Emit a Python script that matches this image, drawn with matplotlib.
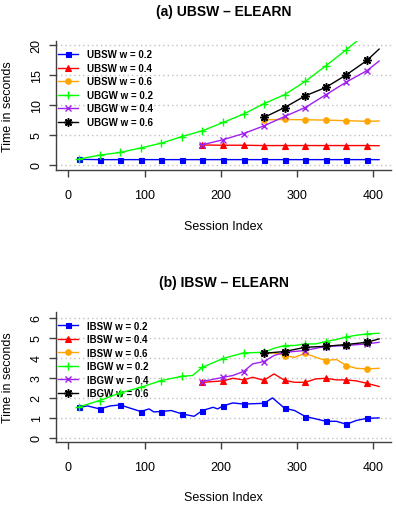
import matplotlib
matplotlib.use("Agg")
import matplotlib.pyplot as plt

plt.rcParams['font.family'] = ['Liberation Sans', 'DejaVu Sans']

# ---------------- data ----------------
MARKS = [14, 41, 68, 95, 122, 149, 176, 203, 230, 257, 284, 311, 338, 365, 392]

# (a) UBSW - ELEARN
a_ubsw02_x = [12, 14, 41, 68, 95, 122, 149, 176, 203, 230, 257, 284, 311, 338, 365, 392, 408]
a_ubsw02_y = [0.9, 0.9, 0.85, 0.85, 0.85, 0.85, 0.85, 0.85, 0.85, 0.85, 0.85, 0.85, 0.85, 0.85, 0.85, 0.85, 0.85]
a_ubsw04_x = [173, 176, 203, 230, 257, 284, 311, 338, 365, 392, 408]
a_ubsw04_y = [3.35, 3.3, 3.25, 3.25, 3.2, 3.2, 3.2, 3.2, 3.2, 3.2, 3.17]
a_ubsw06_x = [257, 284, 311, 338, 365, 392, 408]
a_ubsw06_y = [7.5, 7.55, 7.5, 7.45, 7.35, 7.25, 7.3]
a_ubgw02_x = [14, 41, 68, 95, 122, 149, 176, 203, 230, 257, 284, 311, 338, 365, 392, 408]
a_ubgw02_y = [0.95, 1.6, 2.05, 2.8, 3.6, 4.7, 5.67, 7.05, 8.45, 10.2, 11.7, 13.9, 16.5, 19.2, 22.0, 23.8]
a_ubgw04_x = [173, 176, 203, 230, 257, 284, 311, 338, 365, 392, 408]
a_ubgw04_y = [3.33, 3.33, 4.17, 5.2, 6.5, 8.05, 9.55, 11.67, 13.8, 15.7, 17.3]
a_ubgw06_x = [257, 284, 311, 338, 365, 392, 408]
a_ubgw06_y = [7.9, 9.55, 11.5, 12.9, 15.0, 17.4, 19.3]

# (b) IBSW - ELEARN
b_ibsw02_x = [12, 14, 25, 41, 55, 68, 80, 95, 106, 112, 122, 135, 149, 165, 176, 190, 196, 203,
              216, 230, 257, 268, 284, 297, 311, 325, 338, 352, 365, 378, 392, 408]
b_ibsw02_y = [1.5, 1.53, 1.6, 1.45, 1.6, 1.65, 1.5, 1.32, 1.45, 1.3, 1.32, 1.37, 1.2, 1.08, 1.37,
              1.53, 1.45, 1.6, 1.75, 1.69, 1.73, 2.0, 1.48, 1.37, 1.07, 0.95, 0.83, 0.83, 0.68, 0.87,
              0.98, 1.0]
b_ibsw04_x = [174, 176, 203, 216, 230, 242, 257, 270, 284, 297, 311, 325, 338, 352, 365, 378, 392, 408]
b_ibsw04_y = [2.78, 2.78, 2.85, 2.98, 2.9, 3.03, 2.88, 3.2, 2.88, 2.78, 2.78, 2.95, 2.98, 2.9, 2.9,
              2.85, 2.73, 2.57]
b_ibsw06_x = [257, 270, 284, 297, 311, 325, 338, 352, 365, 378, 392, 408]
b_ibsw06_y = [4.23, 4.25, 4.12, 4.03, 4.23, 4.03, 3.87, 3.92, 3.62, 3.48, 3.45, 3.48]
b_ibgw02_x = [14, 41, 68, 95, 122, 149, 163, 176, 203, 230, 257, 270, 284, 297, 311, 325, 338, 352,
              365, 378, 392, 408]
b_ibgw02_y = [1.55, 1.87, 2.25, 2.53, 2.87, 3.08, 3.12, 3.53, 3.97, 4.25, 4.28, 4.48, 4.62, 4.62,
              4.7, 4.7, 4.82, 4.92, 5.05, 5.13, 5.2, 5.23]
b_ibgw04_x = [174, 176, 203, 216, 230, 242, 257, 270, 284, 311, 325, 338, 365, 392, 408]
b_ibgw04_y = [2.82, 2.82, 3.03, 3.12, 3.32, 3.7, 3.82, 4.12, 4.28, 4.37, 4.48, 4.57, 4.62, 4.7, 4.78]
b_ibgw06_x = [257, 284, 311, 338, 365, 392, 408]
b_ibgw06_y = [4.23, 4.32, 4.53, 4.58, 4.67, 4.78, 4.95]

labels_a = ["UBSW w = 0.2", "UBSW w = 0.4", "UBSW w = 0.6",
            "UBGW w = 0.2", "UBGW w = 0.4", "UBGW w = 0.6"]
labels_b = ["IBSW w = 0.2", "IBSW w = 0.4", "IBSW w = 0.6",
            "IBGW w = 0.2", "IBGW w = 0.4", "IBGW w = 0.6"]

x_ticks = [0, 100, 200, 300, 400]
a_yticks = [0, 5, 10, 15, 20]
b_yticks = [0, 1, 2, 3, 4, 5, 6]

# ---------------- styles ----------------
colors = ['#0000ff', '#ff0000', '#ffa500', '#00ff00', '#a020f0', '#000000']
markers = ['s', '^', 'o', '+', 'x', (8, 2, 0)]
msizes = [3.6, 4.0, 4.0, 6.0, 4.6, 6.0]
mews = [0.8, 0.8, 0.8, 1.0, 1.0, 1.1]

W, H = 396, 506
fig = plt.figure(figsize=(W / 100, H / 100), dpi=100)

SPINE = '#404040'
GRID = '#c0c0c0'
FS = 9


def make_axes(top_px, bottom_px):
    left_px, right_px = 56, 391.5
    return fig.add_axes([left_px / W, 1 - bottom_px / H,
                         (right_px - left_px) / W, (bottom_px - top_px) / H])


def draw(ax, series, labels, yticks, ylim, title, title_y, xlabel_y, ylabel_y, leg_anchor_y):
    for i, (xs, ys) in enumerate(series):
        me = [k for k, xv in enumerate(xs) if xv in MARKS]
        ax.plot(xs, ys, color=colors[i], lw=1.0, marker=markers[i], ms=msizes[i],
                mew=mews[i], markevery=me, label=labels[i], zorder=3 + (i if i != 2 else 0))
    for yt in yticks:
        ax.axhline(yt, color=GRID, lw=1.0, ls=(0, (1, 2.2)), zorder=1)
    ax.set_xlim(-16.3, 424.3)
    ax.set_ylim(*ylim)
    ax.set_xticks(x_ticks)
    ax.set_yticks(yticks)
    for s in ['top', 'right']:
        ax.spines[s].set_visible(False)
    for s in ['left', 'bottom']:
        ax.spines[s].set_color(SPINE)
        ax.spines[s].set_linewidth(1.0)
    ax.tick_params(axis='both', direction='out', length=5, width=1.0, color=SPINE,
                   labelsize=FS, labelcolor='black')
    ax.tick_params(axis='x', pad=8.5)
    ax.tick_params(axis='y', pad=4.5, labelrotation=90)
    for lab in ax.get_yticklabels():
        lab.set_va('center')
    leg = ax.legend(loc='upper left', bbox_to_anchor=(-0.006, leg_anchor_y), frameon=False,
                    fontsize=7, handlelength=2.06, handletextpad=0.9, labelspacing=0.36,
                    borderaxespad=0, borderpad=0.4)
    for t in leg.get_texts():
        t.set_fontweight('bold')
    cx = (56 + 391.5) / 2 / W
    fig.text(cx, 1 - title_y / H, title, ha='center', va='center', fontsize=10,
             fontweight='bold')
    fig.text(cx, 1 - xlabel_y / H, "Session Index", ha='center', va='center', fontsize=FS)
    fig.text(8 / W, 1 - ylabel_y / H, "Time in seconds", ha='center', va='center',
             fontsize=FS, rotation=90)


ax1 = make_axes(42, 171)
draw(ax1,
     [(a_ubsw02_x, a_ubsw02_y), (a_ubsw04_x, a_ubsw04_y), (a_ubsw06_x, a_ubsw06_y),
      (a_ubgw02_x, a_ubgw02_y), (a_ubgw04_x, a_ubgw04_y), (a_ubgw06_x, a_ubgw06_y)],
     labels_a, a_yticks, (-0.88, 20.65), "(a) UBSW \u2013 ELEARN", 12, 227, 106.5, 0.965)

ax2 = make_axes(313.3, 443.3)
draw(ax2,
     [(b_ibsw02_x, b_ibsw02_y), (b_ibsw04_x, b_ibsw04_y), (b_ibsw06_x, b_ibsw06_y),
      (b_ibgw02_x, b_ibgw02_y), (b_ibgw04_x, b_ibgw04_y), (b_ibgw06_x, b_ibgw06_y)],
     labels_b, b_yticks, (-0.22, 6.28), "(b) IBSW \u2013 ELEARN", 283, 498, 378, 0.965)

fig.savefig("out.png", dpi=100)
